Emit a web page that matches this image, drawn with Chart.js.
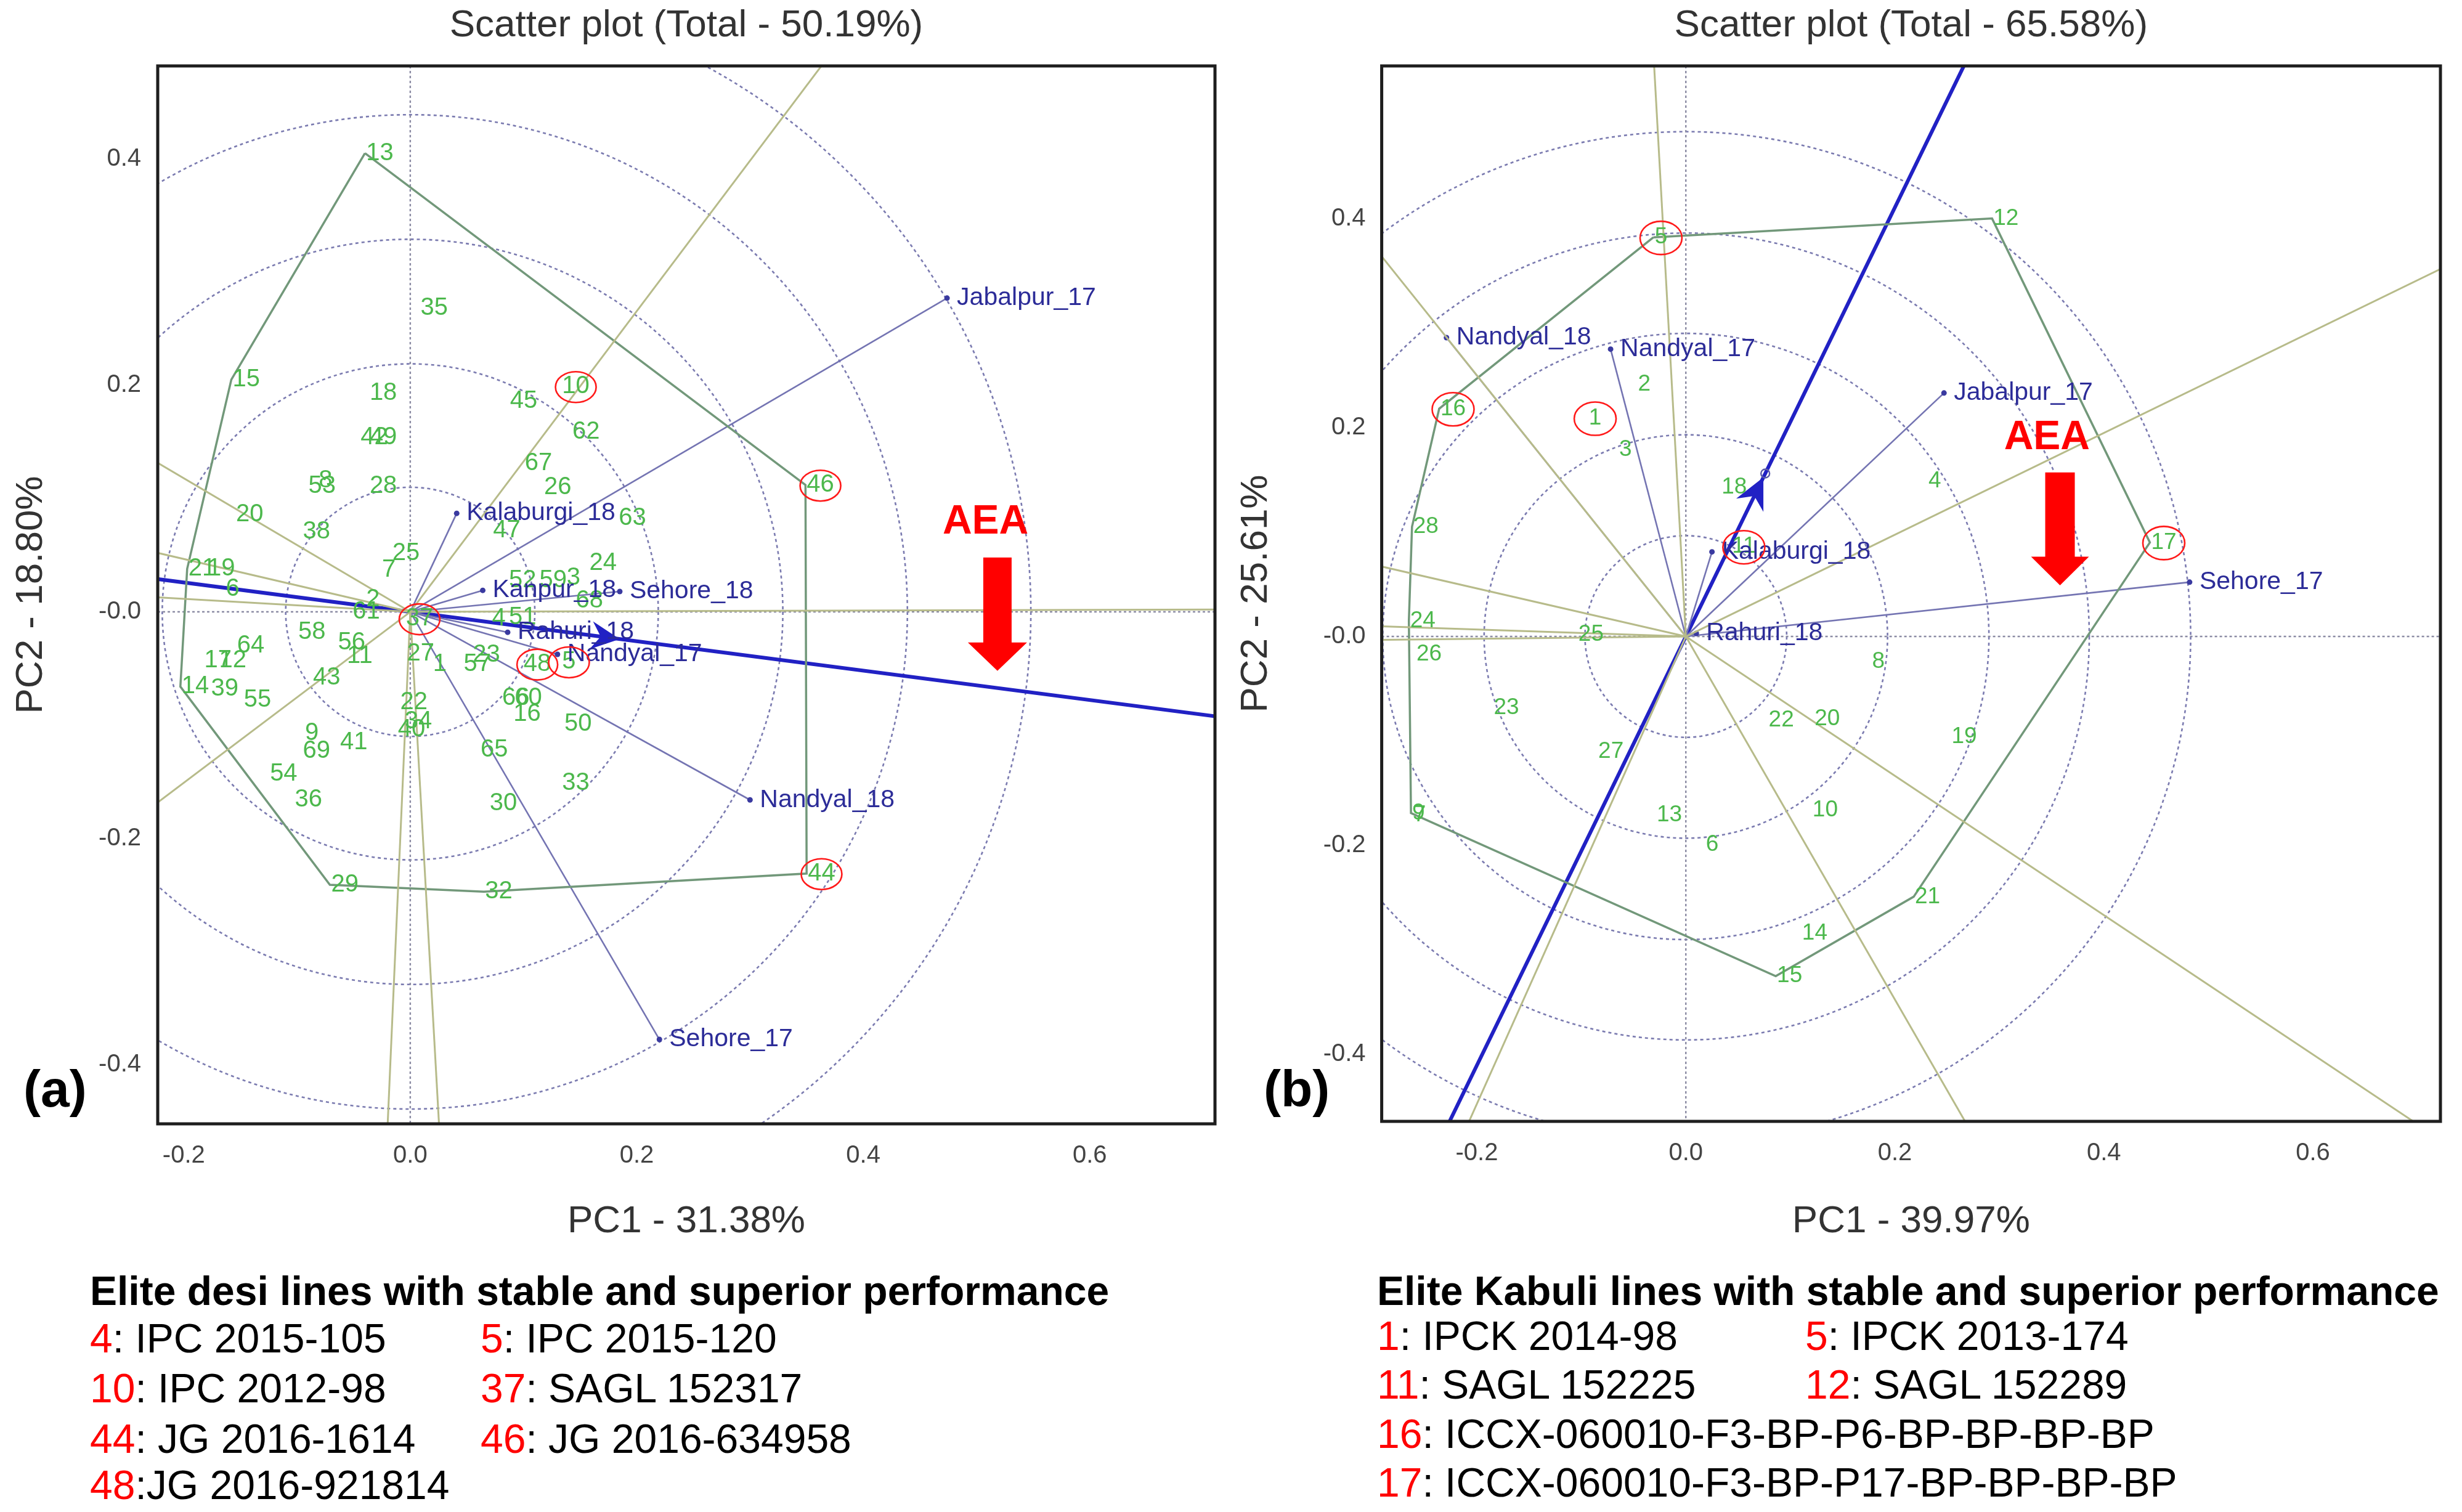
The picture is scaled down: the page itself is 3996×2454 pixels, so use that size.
<!DOCTYPE html>
<html><head><meta charset="utf-8">
<script src="https://cdn.jsdelivr.net/npm/chart.js@4.4.1/dist/chart.umd.min.js"></script>
<style>
html,body{margin:0;padding:0;background:#fff;}
#page{position:relative;width:3996px;height:2454px;overflow:hidden;background:#fff;font-family:'Liberation Sans',Arial,Helvetica,sans-serif;}
canvas{position:absolute;top:0;}
.t{position:absolute;white-space:nowrap;line-height:1;color:#000;font-size:66px;}
.t b.n{color:#ff0000;font-weight:normal;}
.h{font-weight:bold;}
.p{position:absolute;line-height:1;font-weight:bold;font-size:84px;color:#000;}
</style></head><body><div id="page">
<canvas id="cA" width="2000" height="2030" style="left:0px"></canvas>
<canvas id="cB" width="1996" height="2030" style="left:2000px"></canvas>
<div class="p" style="left:38px;top:1725px">(a)</div>
<div class="p" style="left:2051px;top:1725px">(b)</div>
</div>
<script>
const FONT = "'Liberation Sans', Arial, Helvetica, sans-serif";

// ================= Panel (a): desi =================
const aTitle = 'Scatter plot (Total - 50.19%)';
const aXTitle = 'PC1 - 31.38%';
const aYTitle = 'PC2 - 18.80%';
const aXTicks = [-0.2, 0, 0.2, 0.4, 0.6];
const aXTickLabels = ['-0.2', '0.0', '0.2', '0.4', '0.6'];
const aYTicks = [-0.4, -0.2, 0, 0.2, 0.4];
const aYTickLabels = ['-0.4', '-0.2', '-0.0', '0.2', '0.4'];
const aGenoLabels = ['13','35','15','18','10','45','62','42','49','53','8','28','67','26','63','20','38','47','25','7','24','21','19','6','2','61','3','52','59','68','4','51','37','5','48','23','57','27','1','22','34','40','66','60','16','50','65','41','56','11','58','64','17','12','14','39','55','43','9','69','54','36','30','33','29','32','44','46'];
const aGenoX = [-0.040,0.008,-0.158,-0.037,0.133,0.087,0.142,-0.045,-0.037,-0.091,-0.082,-0.037,0.100,0.117,0.183,-0.155,-0.096,0.072,-0.017,-0.026,0.157,-0.197,-0.180,-0.164,-0.040,-0.052,0.137,0.086,0.113,0.145,0.071,0.086,-0.005,0.133,0.099,0.054,0.046,-0.004,0.019,-0.010,-0.006,-0.012,0.080,0.091,0.090,0.135,0.061,-0.063,-0.065,-0.057,-0.100,-0.154,-0.183,-0.170,-0.203,-0.177,-0.148,-0.087,-0.094,-0.096,-0.125,-0.103,0.069,0.133,-0.071,0.065,0.350,0.349];
const aGenoY = [0.405,0.268,0.205,0.193,0.199,0.186,0.159,0.154,0.154,0.111,0.116,0.111,0.131,0.110,0.083,0.086,0.071,0.072,0.052,0.037,0.043,0.038,0.038,0.020,0.011,0.000,0.030,0.028,0.028,0.010,-0.006,-0.005,-0.006,-0.044,-0.046,-0.038,-0.046,-0.037,-0.046,-0.080,-0.097,-0.104,-0.076,-0.076,-0.090,-0.099,-0.122,-0.115,-0.027,-0.039,-0.018,-0.030,-0.043,-0.043,-0.066,-0.068,-0.078,-0.058,-0.107,-0.123,-0.143,-0.166,-0.169,-0.151,-0.241,-0.247,-0.231,0.112];
const aEnvLabels = ['Jabalpur_17','Kalaburgi_18','Kanpur_18','Sehore_18','Rahuri_18','Nandyal_17','Nandyal_18','Sehore_17'];
const aEnvX = [0.474, 0.041, 0.064, 0.185, 0.086, 0.130, 0.300, 0.220];
const aEnvY = [0.277, 0.087, 0.019, 0.018, -0.018, -0.0375, -0.166, -0.3775];
const aHull = ['13','15','21','14','29','32','44','46'];
const aAEA = [0.185, -0.024];
const aCircleRadii = [0.110, 0.219, 0.329, 0.439, 0.548];
const aElite = ['10','46','44','48','5','37'];
const aEliteNums = ['4','5','10','37','44','46','48'];
const aEliteNames = [': IPC 2015-105', ': IPC 2015-120', ': IPC 2012-98', ': SAGL 152317', ': JG 2016-1614', ': JG 2016-634958', ':JG 2016-921814'];
const aLegendTitle = 'Elite desi lines with stable and superior performance';

// ================= Panel (b): kabuli =================
const bTitle = 'Scatter plot (Total - 65.58%)';
const bXTitle = 'PC1 - 39.97%';
const bYTitle = 'PC2 - 25.61%';
const bXTicks = [-0.2, 0, 0.2, 0.4, 0.6];
const bXTickLabels = ['-0.2', '0.0', '0.2', '0.4', '0.6'];
const bYTicks = [-0.4, -0.2, 0, 0.2, 0.4];
const bYTickLabels = ['-0.4', '-0.2', '-0.0', '0.2', '0.4'];
const bGenoLabels = ['5','12','17','21','15','9','7','16','28','24','26','2','1','3','18','11','25','4','19','23','27','13','6','22','20','8','10','14'];
const bGenoX = [-0.031,0.293,0.444,0.218,0.086,-0.263,-0.262,-0.236,-0.262,-0.265,-0.259,-0.047,-0.094,-0.065,0.033,0.043,-0.104,0.231,0.253,-0.185,-0.085,-0.029,0.018,0.078,0.122,0.177,0.120,0.110];
const bGenoY = [0.382,0.400,0.090,-0.249,-0.325,-0.169,-0.171,0.218,0.105,0.015,-0.017,0.241,0.209,0.179,0.143,0.086,0.002,0.149,-0.096,-0.068,-0.110,-0.171,-0.199,-0.080,-0.079,-0.024,-0.166,-0.284];
const bEnvLabels = ['Nandyal_18','Nandyal_17','Kalaburgi_18','Rahuri_18','Jabalpur_17','Sehore_17'];
const bEnvX = [-0.229, -0.072, 0.025, 0.010, 0.247, 0.482];
const bEnvY = [0.286, 0.275, 0.081, 0.003, 0.233, 0.052];
const bHull = ['5','16','28','24','9','15','21','17','12'];
const bAEA = [0.076, 0.156];
const bCircleRadii = [0.0965, 0.193, 0.290, 0.386, 0.483];
const bElite = ['5','16','1','11','17'];
const bEliteNums = ['1','5','11','12','16','17'];
const bEliteNames = [': IPCK 2014-98', ': IPCK 2013-174', ': SAGL 152225', ': SAGL 152289', ': ICCX-060010-F3-BP-P6-BP-BP-BP-BP', ': ICCX-060010-F3-BP-P17-BP-BP-BP-BP'];
const bLegendTitle = 'Elite Kabuli lines with stable and superior performance';

// ================= drawing =================
const COL = {
  ray: '#b7bb8a', hull: '#72987a', env: '#7474b2', envDot: '#3a3aa0', envText: '#2c2c98',
  aea: '#2121c4', geno: '#4cb84c', circle: '#7b7bb0', axis: '#8c8ca4', red: '#ff1a1a', box: '#1e1e1e', text: '#333333'
};

const biplotPlugin = {
  id: 'biplot',
  beforeDatasetsDraw(chart, args, o) {
    const {ctx, chartArea: ca, scales: {x, y}} = chart;
    const ox = x.getPixelForValue(0), oy = y.getPixelForValue(0);
    ctx.save();
    ctx.beginPath(); ctx.rect(ca.left, ca.top, ca.right - ca.left, ca.bottom - ca.top); ctx.clip();
    ctx.strokeStyle = COL.circle; ctx.lineWidth = 2.6; ctx.setLineDash([5, 5]);
    o.radii.forEach(r => {
      const rp = x.getPixelForValue(r) - ox;
      ctx.beginPath(); ctx.arc(ox, oy, rp, 0, Math.PI * 2); ctx.stroke();
    });
    ctx.strokeStyle = COL.axis; ctx.lineWidth = 2.4; ctx.setLineDash([4, 4]);
    ctx.beginPath();
    ctx.moveTo(ca.left, oy); ctx.lineTo(ca.right, oy);
    ctx.moveTo(ox, ca.top); ctx.lineTo(ox, ca.bottom);
    ctx.stroke();
    ctx.restore();
  },
  afterDatasetsDraw(chart, args, o) {
    const {ctx, chartArea: ca, scales: {x, y}} = chart;
    const ds = chart.data.datasets;
    const ox = x.getPixelForValue(0), oy = y.getPixelForValue(0);
    ctx.save();
    ctx.beginPath(); ctx.rect(ca.left, ca.top, ca.right - ca.left, ca.bottom - ca.top); ctx.clip();

    // AEA arrow head (filled, notched) with optional small circle at the AEA point
    const ai = ds.findIndex(d => d.role === 'aeaPt');
    const ap = chart.getDatasetMeta(ai).data[0];
    const ang = Math.atan2(ap.y - oy, ap.x - ox);
    const cr = o.aeaCircle ? 7 : 0;
    const tx0 = ap.x - cr * Math.cos(ang), ty0 = ap.y - cr * Math.sin(ang);
    const back = ang + Math.PI;
    const hl = o.arrowLen, ha = 26 * Math.PI / 180;
    ctx.fillStyle = COL.aea; ctx.setLineDash([]);
    ctx.beginPath();
    ctx.moveTo(tx0, ty0);
    ctx.lineTo(tx0 + hl * Math.cos(back - ha), ty0 + hl * Math.sin(back - ha));
    ctx.lineTo(tx0 + hl * 0.6 * Math.cos(back), ty0 + hl * 0.6 * Math.sin(back));
    ctx.lineTo(tx0 + hl * Math.cos(back + ha), ty0 + hl * Math.sin(back + ha));
    ctx.closePath(); ctx.fill();
    if (o.aeaCircle) {
      ctx.strokeStyle = '#5a5aa8'; ctx.lineWidth = 2.4;
      ctx.beginPath(); ctx.arc(ap.x, ap.y, cr, 0, Math.PI * 2); ctx.stroke();
    }

    // genotype labels
    const gi = ds.findIndex(d => d.role === 'geno');
    const gmeta = chart.getDatasetMeta(gi);
    ctx.font = o.genoSize + 'px ' + FONT;
    ctx.fillStyle = COL.geno; ctx.textAlign = 'left'; ctx.textBaseline = 'middle';
    const labs = ds[gi].labels;
    gmeta.data.forEach((el, j) => ctx.fillText(labs[j], el.x + 2, el.y));

    // environment labels
    ctx.font = o.envSize + 'px ' + FONT;
    ctx.fillStyle = COL.envText;
    ds.forEach((d, i) => {
      if (d.role !== 'env') return;
      const el = chart.getDatasetMeta(i).data[1];
      ctx.fillText(d.label, el.x + 16, el.y);
    });

    // elite ellipses
    ctx.font = o.genoSize + 'px ' + FONT;
    ctx.strokeStyle = COL.red; ctx.lineWidth = 2.6;
    o.elite.forEach(lab => {
      const j = labs.indexOf(lab);
      const el = gmeta.data[j];
      const w = ctx.measureText(lab).width;
      ctx.beginPath(); ctx.ellipse(el.x + 2 + w / 2, el.y + 1, o.ellRx, o.ellRy, 0, 0, Math.PI * 2); ctx.stroke();
    });

    // AEA annotation (red)
    const n = o.note;
    const tx = x.getPixelForValue(n.textX), ty = y.getPixelForValue(n.textY);
    ctx.fillStyle = '#ff0000';
    ctx.font = 'bold 66px ' + FONT; ctx.textAlign = 'center'; ctx.textBaseline = 'middle';
    ctx.fillText('AEA', tx, ty);
    const sx = x.getPixelForValue(n.shaftX);
    const st = y.getPixelForValue(n.shaftTop), sb = y.getPixelForValue(n.shaftBottom), tip = y.getPixelForValue(n.tipY);
    ctx.fillRect(sx - n.shaftHalf, st, n.shaftHalf * 2, sb - st + 1);
    ctx.beginPath(); ctx.moveTo(sx - n.headHalf, sb); ctx.lineTo(sx + n.headHalf, sb); ctx.lineTo(sx, tip); ctx.closePath(); ctx.fill();
    ctx.restore();

    // frame
    ctx.save();
    ctx.strokeStyle = COL.box; ctx.lineWidth = 5;
    ctx.strokeRect(ca.left, ca.top, ca.right - ca.left, ca.bottom - ca.top);
    ctx.restore();
  }
};

function makePanel(id, P, L) {
  const pt = lab => { const i = P.geno.indexOf(lab); return {x: P.gx[i], y: P.gy[i]}; };
  const hull = P.hull.map(pt);
  const datasets = [];
  hull.forEach((a, i) => {
    const b = hull[(i + 1) % hull.length];
    let nx = b.y - a.y, ny = -(b.x - a.x);
    if (nx * (a.x + b.x) + ny * (a.y + b.y) < 0) { nx = -nx; ny = -ny; }
    const len = Math.hypot(nx, ny);
    datasets.push({role: 'ray', data: [{x: 0, y: 0}, {x: nx / len * 3, y: ny / len * 3}], showLine: true, borderColor: COL.ray, borderWidth: 3, pointRadius: 0});
  });
  datasets.push({role: 'hull', data: hull.concat([hull[0]]), showLine: true, borderColor: COL.hull, borderWidth: 3.5, pointRadius: 0});
  P.env.forEach((e, i) => datasets.push({role: 'env', label: e, data: [{x: 0, y: 0}, {x: P.ex[i], y: P.ey[i]}], showLine: true, borderColor: COL.env, borderWidth: 2.6, pointRadius: [0, 4.5], pointBackgroundColor: COL.envDot, pointBorderWidth: 0}));
  const al = Math.hypot(P.aea[0], P.aea[1]);
  datasets.push({role: 'aea', data: [{x: -P.aea[0] / al * 3, y: -P.aea[1] / al * 3}, {x: P.aea[0] / al * 3, y: P.aea[1] / al * 3}], showLine: true, borderColor: COL.aea, borderWidth: 6, pointRadius: 0});
  datasets.push({role: 'aeaPt', data: [{x: P.aea[0], y: P.aea[1]}], pointRadius: 0});
  datasets.push({role: 'geno', labels: P.geno, data: P.geno.map((g, i) => ({x: P.gx[i], y: P.gy[i]})), pointRadius: 0});

  return new Chart(document.getElementById(id), {
    type: 'scatter',
    data: {datasets},
    plugins: [biplotPlugin],
    options: {
      responsive: false, animation: false, devicePixelRatio: 1, events: [],
      layout: {padding: {left: 0, right: L.padRight, top: 0, bottom: 0}},
      plugins: {
        legend: {display: false}, tooltip: {enabled: false},
        title: {display: true, fullSize: false, text: P.title, color: COL.text, font: {family: FONT, size: 62, weight: 'normal'}, padding: {top: 5, bottom: 27.6}},
        biplot: {radii: P.radii, elite: P.elite, genoSize: L.genoSize, envSize: 41, ellRx: L.ellRx, ellRy: L.ellRy,
                 arrowLen: L.arrowLen, aeaCircle: L.aeaCircle, note: L.note}
      },
      scales: {
        x: {type: 'linear', min: L.xMin, max: L.xMax,
            afterFit: s => { s.height = L.xAxisH; },
            afterBuildTicks: s => { s.ticks = P.xt.map(v => ({value: v})); },
            ticks: {callback: (v, i) => P.xtl[i], font: {family: FONT, size: 40}, color: '#444', padding: 20, maxRotation: 0, autoSkip: false},
            grid: {display: false}, border: {display: false},
            title: {display: true, text: P.xTitle, color: COL.text, font: {family: FONT, size: 62}, padding: {top: 0, bottom: 10}}},
        y: {type: 'linear', min: L.yMin, max: L.yMax,
            afterFit: s => { s.width = L.yAxisW; },
            afterBuildTicks: s => { s.ticks = P.yt.map(v => ({value: v})); },
            ticks: {callback: (v, i) => P.ytl[i], font: {family: FONT, size: 40}, color: '#444', padding: L.yTickPad, autoSkip: false},
            grid: {display: false}, border: {display: false},
            title: {display: true, text: P.yTitle, color: COL.text, font: {family: FONT, size: 62}, padding: {top: L.yTitlePad, bottom: 0}}}
      }
    }
  });
}

makePanel('cA', {
  title: aTitle, xTitle: aXTitle, yTitle: aYTitle, xt: aXTicks, xtl: aXTickLabels, yt: aYTicks, ytl: aYTickLabels,
  geno: aGenoLabels, gx: aGenoX, gy: aGenoY, env: aEnvLabels, ex: aEnvX, ey: aEnvY, hull: aHull, aea: aAEA, radii: aCircleRadii, elite: aElite
}, {
  padRight: 28, xMin: -0.223, xMax: 0.7106, yMin: -0.452, yMax: 0.482, xAxisH: 206, yAxisW: 256, yTickPad: 19, yTitlePad: 14,
  genoSize: 40, ellRx: 33, ellRy: 25, arrowLen: 52, aeaCircle: false,
  note: {textX: 0.508, textY: 0.079, shaftX: 0.5185, shaftTop: 0.048, shaftBottom: -0.027, tipY: -0.052, shaftHalf: 23, headHalf: 48}
});

makePanel('cB', {
  title: bTitle, xTitle: bXTitle, yTitle: bYTitle, xt: bXTicks, xtl: bXTickLabels, yt: bYTicks, ytl: bYTickLabels,
  geno: bGenoLabels, gx: bGenoX, gy: bGenoY, env: bEnvLabels, ex: bEnvX, ey: bEnvY, hull: bHull, aea: bAEA, radii: bCircleRadii, elite: bElite
}, {
  padRight: 35, xMin: -0.291, xMax: 0.722, yMin: -0.464, yMax: 0.546, xAxisH: 210, yAxisW: 242.6, yTickPad: 18, yTitlePad: 2,
  genoSize: 37, ellRx: 34, ellRy: 27, arrowLen: 56, aeaCircle: true,
  note: {textX: 0.3455, textY: 0.190, shaftX: 0.358, shaftTop: 0.157, shaftBottom: 0.0764, tipY: 0.049, shaftHalf: 24, headHalf: 47}
});

// ================= legends (text) =================
const page = document.getElementById('page');
function addDiv(html, left, top, cls) {
  const d = document.createElement('div');
  d.className = 't' + (cls ? ' ' + cls : '');
  d.style.left = left + 'px'; d.style.top = top + 'px';
  d.innerHTML = html; page.appendChild(d);
}
function legend(title, nums, names, titleX, cells, rowTops) {
  addDiv(title, titleX, 2062, 'h');
  nums.forEach((n, i) => addDiv('<b class="n">' + n + '</b>' + names[i], cells[i][0], rowTops[cells[i][1]]));
}
legend(aLegendTitle, aEliteNums, aEliteNames, 146,
  [[146, 0], [780, 0], [146, 1], [780, 1], [146, 2], [780, 2], [146, 3]], [2139, 2220, 2302, 2377]);
legend(bLegendTitle, bEliteNums, bEliteNames, 2235,
  [[2235, 0], [2930, 0], [2235, 1], [2930, 1], [2235, 2], [2235, 3]], [2135, 2214, 2294, 2373]);
</script>
</body></html>
